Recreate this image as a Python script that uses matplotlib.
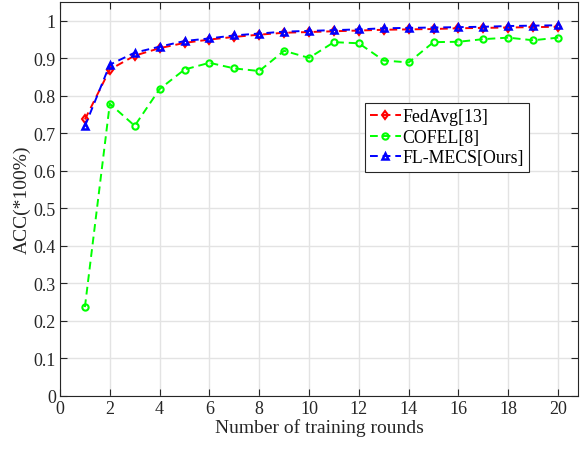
import matplotlib
matplotlib.use("Agg")
import matplotlib.pyplot as plt
import numpy as np

rounds = list(range(1, 21))

fedavg = [0.737, 0.870, 0.907, 0.927, 0.941, 0.950, 0.957, 0.963, 0.968, 0.970,
          0.972, 0.974, 0.976, 0.977, 0.978, 0.980, 0.981, 0.982, 0.983, 0.984]
cofel = [0.237, 0.779, 0.720, 0.818, 0.870, 0.888, 0.873, 0.866, 0.920, 0.901,
         0.943, 0.940, 0.894, 0.889, 0.943, 0.944, 0.951, 0.955, 0.948, 0.955]
flmecs = [0.719, 0.883, 0.915, 0.931, 0.946, 0.953, 0.961, 0.966, 0.971, 0.973,
          0.975, 0.977, 0.980, 0.981, 0.982, 0.983, 0.984, 0.986, 0.987, 0.988]

labels = ["FedAvg[13]", "COFEL[8]", "FL-MECS[Ours]"]
xticks = list(range(0, 21, 2))
yticks = [round(v * 0.1, 1) for v in range(0, 11)]
ytick_labels = ["0", "0.1", "0.2", "0.3", "0.4", "0.5", "0.6", "0.7", "0.8", "0.9", "1"]

plt.rcParams["font.family"] = ["Liberation Serif", "DejaVu Serif"]

fig = plt.figure(figsize=(5.8, 4.52), dpi=100)
ax = fig.add_axes([60 / 580, 55 / 452, 518 / 580, 394 / 452])

ax.plot(rounds, fedavg, linestyle="--", color=(1, 0, 0), lw=1.4,
        marker="d", ms=4.5, mfc="none", mec=(1, 0, 0), mew=1.5,
        dashes=(4, 2.5), label=labels[0], zorder=3)
ax.plot(rounds, cofel, linestyle="--", color=(0, 1, 0), lw=1.4,
        marker="o", ms=4.5, mfc="none", mec=(0, 1, 0), mew=1.5,
        dashes=(4, 2.5), label=labels[1], zorder=3)
ax.plot(rounds, flmecs, linestyle="--", color=(0, 0, 1), lw=1.4,
        marker="^", ms=4.5, mfc="none", mec=(0, 0, 1), mew=1.8,
        dashes=(4, 2.5), label=labels[2], zorder=4)

ax.set_xlim(0, 20.8)
ax.set_ylim(0, 1.05)
ax.set_xticks(xticks)
ax.set_yticks(yticks)
ax.set_yticklabels(ytick_labels)

ax.grid(True, color="#e3e3e3", lw=1.0)
ax.set_axisbelow(True)
ax.tick_params(direction="in", top=True, right=True, length=5, width=0.8,
               labelsize=13, colors="#262626", pad=3)
for s in ax.spines.values():
    s.set_color("#262626")
    s.set_linewidth(0.8)

ax.set_xlabel("Number of training rounds", fontsize=14, color="#262626", labelpad=1)
ax.set_ylabel("ACC(*100%)", fontsize=14, color="#262626", labelpad=2)

leg = ax.legend(loc="upper left", bbox_to_anchor=((365 - 60) / 518, (452 - 104 - 55) / 394),
                fontsize=12.8, handlelength=1.7, handletextpad=0.1, labelspacing=0.2,
                borderpad=0.3, borderaxespad=0, fancybox=False, framealpha=1)
leg.get_frame().set_edgecolor("#262626")
leg.get_frame().set_linewidth(0.8)

fig.savefig("out.png", dpi=100)
